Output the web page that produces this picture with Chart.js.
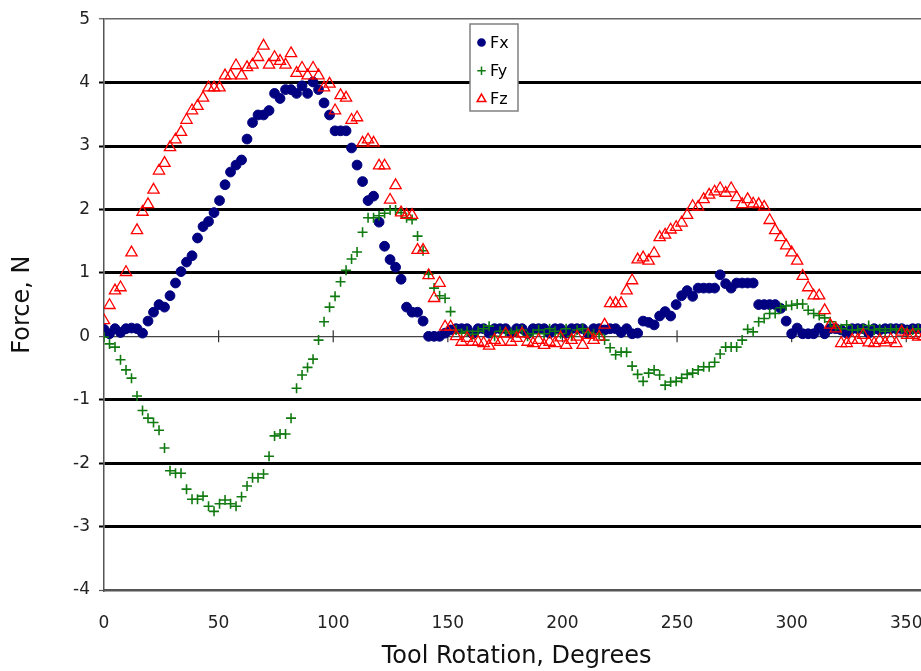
<!DOCTYPE html>
<html>
<head>
<meta charset="utf-8">
<title>Force vs Tool Rotation</title>
<script src="https://cdn.jsdelivr.net/npm/chart.js@4/dist/chart.umd.min.js"></script>
<style>
  html, body { margin: 0; padding: 0; background: #fff; overflow: hidden; }
</style>
</head>
<body>
<canvas id="forceChart" width="937" height="671"></canvas>
<script>
// tool rotation angle of each sample, degrees
const angles = [
  0, 2.4, 4.8, 7.2, 9.6, 12, 14.4, 16.8, 19.2, 21.6,
  24, 26.4, 28.8, 31.2, 33.6, 36, 38.4, 40.8, 43.2, 45.6,
  48, 50.4, 52.8, 55.2, 57.6, 60, 62.4, 64.8, 67.2, 69.6,
  72, 74.4, 76.8, 79.2, 81.6, 84, 86.4, 88.8, 91.2, 93.6,
  96, 98.4, 100.8, 103.2, 105.6, 108, 110.4, 112.8, 115.2, 117.6,
  120, 122.4, 124.8, 127.2, 129.6, 132, 134.4, 136.8, 139.2, 141.6,
  144, 146.4, 148.8, 151.2, 153.6, 156, 158.4, 160.8, 163.2, 165.6,
  168, 170.4, 172.8, 175.2, 177.6, 180, 182.4, 184.8, 187.2, 189.6,
  192, 194.4, 196.8, 199.2, 201.6, 204, 206.4, 208.8, 211.2, 213.6,
  216, 218.4, 220.8, 223.2, 225.6, 228, 230.4, 232.8, 235.2, 237.6,
  240, 242.4, 244.8, 247.2, 249.6, 252, 254.4, 256.8, 259.2, 261.6,
  264, 266.4, 268.8, 271.2, 273.6, 276, 278.4, 280.8, 283.2, 285.6,
  288, 290.4, 292.8, 295.2, 297.6, 300, 302.4, 304.8, 307.2, 309.6,
  312, 314.4, 316.8, 319.2, 321.6, 324, 326.4, 328.8, 331.2, 333.6,
  336, 338.4, 340.8, 343.2, 345.6, 348, 350.4, 352.8, 355.2, 357.6
];

const fx = [
  0.11, 0.04, 0.12, 0.06, 0.12, 0.13, 0.12, 0.05, 0.24, 0.38,
  0.50, 0.46, 0.64, 0.84, 1.02, 1.17, 1.27, 1.55, 1.73, 1.81,
  1.95, 2.14, 2.39, 2.59, 2.70, 2.78, 3.11, 3.37, 3.49, 3.49,
  3.56, 3.83, 3.75, 3.89, 3.89, 3.83, 3.95, 3.83, 4.01, 3.89,
  3.68, 3.49, 3.24, 3.24, 3.24, 2.97, 2.70, 2.44, 2.14, 2.21,
  1.80, 1.42, 1.21, 1.09, 0.90, 0.46, 0.38, 0.38, 0.24, 0.00,
  0.00, 0.00, 0.05, 0.10, 0.12, 0.12, 0.12, 0.04, 0.12, 0.12,
  0.05, 0.12, 0.12, 0.12, 0.05, 0.12, 0.12, 0.04, 0.12, 0.12,
  0.12, 0.05, 0.12, 0.12, 0.05, 0.12, 0.12, 0.12, 0.04, 0.12,
  0.12, 0.10, 0.12, 0.12, 0.06, 0.12, 0.04, 0.05, 0.24, 0.22,
  0.18, 0.32, 0.39, 0.32, 0.50, 0.64, 0.72, 0.63, 0.76, 0.76,
  0.76, 0.76, 0.97, 0.83, 0.76, 0.84, 0.84, 0.84, 0.84, 0.50,
  0.50, 0.50, 0.50, 0.44, 0.24, 0.04, 0.13, 0.04, 0.04, 0.04,
  0.13, 0.04, 0.12, 0.12, 0.10, 0.05, 0.12, 0.12, 0.12, 0.05,
  0.12, 0.10, 0.12, 0.12, 0.12, 0.12, 0.10, 0.12, 0.12, 0.12
];

const fy = [
  -0.01, -0.12, -0.17, -0.37, -0.53, -0.66, -0.94, -1.17, -1.29, -1.36,
  -1.48, -1.76, -2.12, -2.16, -2.16, -2.41, -2.57, -2.57, -2.52, -2.68,
  -2.76, -2.64, -2.58, -2.64, -2.68, -2.53, -2.36, -2.23, -2.23, -2.17,
  -1.89, -1.57, -1.54, -1.54, -1.29, -0.82, -0.61, -0.49, -0.36, -0.06,
  0.23, 0.46, 0.63, 0.86, 1.04, 1.22, 1.33, 1.64, 1.87, 1.87,
  1.90, 1.94, 1.99, 1.99, 1.95, 1.87, 1.84, 1.58, 1.35, 0.98,
  0.76, 0.64, 0.60, 0.39, 0.10, 0.05, 0.08, 0.03, 0.08, 0.12,
  0.16, 0.00, 0.08, 0.08, 0.05, 0.08, 0.10, 0.00, 0.04, 0.10,
  0.04, 0.12, 0.08, 0.04, 0.12, 0.00, 0.10, 0.12, 0.06, 0.04,
  0.03, -0.06, -0.18, -0.29, -0.25, -0.25, -0.47, -0.60, -0.71, -0.58,
  -0.53, -0.61, -0.77, -0.72, -0.71, -0.66, -0.60, -0.58, -0.53, -0.48,
  -0.48, -0.41, -0.28, -0.17, -0.17, -0.17, -0.06, 0.11, 0.07, 0.23,
  0.28, 0.36, 0.36, 0.45, 0.48, 0.49, 0.51, 0.51, 0.41, 0.36,
  0.33, 0.29, 0.23, 0.16, 0.12, 0.18, 0.10, 0.10, 0.12, 0.17,
  0.10, 0.12, 0.08, 0.12, 0.10, 0.12, 0.08, 0.10, 0.12, 0.10
];

const fz = [
  0.25, 0.49, 0.72, 0.77, 1.01, 1.32, 1.67, 1.96, 2.08, 2.31,
  2.61, 2.73, 2.98, 3.10, 3.22, 3.41, 3.56, 3.63, 3.76, 3.92,
  3.92, 3.92, 4.11, 4.11, 4.27, 4.11, 4.24, 4.28, 4.40, 4.58,
  4.28, 4.40, 4.34, 4.28, 4.46, 4.15, 4.23, 4.11, 4.23, 4.11,
  3.92, 3.98, 3.56, 3.80, 3.76, 3.41, 3.45, 3.05, 3.10, 3.05,
  2.69, 2.69, 2.15, 2.38, 1.95, 1.91, 1.91, 1.36, 1.36, 0.96,
  0.60, 0.84, 0.15, 0.15, 0.00, -0.09, -0.03, -0.09, -0.09, -0.11,
  -0.15, -0.06, -0.09, 0.04, -0.09, -0.03, 0.04, -0.09, -0.11, -0.06,
  -0.14, -0.09, -0.11, -0.02, -0.14, -0.06, -0.01, -0.14, 0.02, -0.06,
  -0.01, 0.18, 0.52, 0.52, 0.52, 0.72, 0.88, 1.21, 1.24, 1.19,
  1.31, 1.56, 1.60, 1.68, 1.72, 1.79, 1.91, 2.05, 2.04, 2.16,
  2.23, 2.28, 2.33, 2.26, 2.33, 2.19, 2.08, 2.16, 2.09, 2.08,
  2.04, 1.83, 1.67, 1.56, 1.43, 1.32, 1.19, 0.95, 0.77, 0.64,
  0.64, 0.41, 0.18, 0.12, -0.11, -0.11, -0.06, -0.06, 0.02, -0.10,
  -0.11, -0.06, -0.10, -0.05, -0.11, 0.07, 0.02, 0.02, -0.01, 0.00
];

const seriesLabels = ["Fx", "Fy", "Fz"];
const xTicks = [0, 50, 100, 150, 200, 250, 300, 350];
const yTicks = [-4, -3, -2, -1, 0, 1, 2, 3, 4, 5];

const FONT = "'DejaVu Sans', Verdana, sans-serif";

function toPoints(values) {
  return angles.map((a, i) => ({ x: a, y: values[i] }));
}

// thin axis line at y = 0 gets tick marks that cross it
const zeroAxisTicks = {
  id: "zeroAxisTicks",
  beforeDatasetsDraw(chart) {
    const { ctx, scales } = chart;
    const y0 = scales.y.getPixelForValue(0);
    ctx.save();
    ctx.strokeStyle = "#333";
    ctx.lineWidth = 1.2;
    xTicks.forEach((v) => {
      if (v === 0) return;
      const px = scales.x.getPixelForValue(v);
      ctx.beginPath();
      ctx.moveTo(px, y0 - 6);
      ctx.lineTo(px, y0 + 6);
      ctx.stroke();
    });
    ctx.restore();
  },
};

// boxed legend sitting inside the plot, like the original
const boxLegend = {
  id: "boxLegend",
  afterDatasetsDraw(chart) {
    const ctx = chart.ctx;
    ctx.save();
    ctx.fillStyle = "#fff";
    ctx.strokeStyle = "#808080";
    ctx.lineWidth = 1.5;
    ctx.fillRect(470, 24, 48, 87);
    ctx.strokeRect(470, 24, 48, 87);
    ctx.font = "16px " + FONT;
    ctx.textBaseline = "middle";
    chart.data.datasets.forEach((ds, i) => {
      const y = 42.5 + i * 28.3;
      ctx.fillStyle = ds.pointBackgroundColor;
      ctx.strokeStyle = ds.pointBorderColor;
      Chart.helpers.drawPoint(ctx, {
        pointStyle: ds.pointStyle,
        radius: ds.legendRadius,
        borderWidth: ds.pointBorderWidth,
        rotation: 0,
      }, 481.5, y);
      ctx.fillStyle = "#000";
      ctx.fillText(ds.label, 490, y + 1);
    });
    ctx.restore();
  },
};

const ctx = document.getElementById("forceChart").getContext("2d");
new Chart(ctx, {
  type: "scatter",
  data: {
    datasets: [
      {
        label: seriesLabels[0],
        data: toPoints(fx),
        pointStyle: "circle",
        pointRadius: 4.9,
        pointBackgroundColor: "#000080",
        pointBorderColor: "#000080",
        pointBorderWidth: 1,
        legendRadius: 3.6,
        order: 2,
      },
      {
        label: seriesLabels[1],
        data: toPoints(fy),
        pointStyle: "cross",
        pointRadius: 5,
        pointBackgroundColor: "#117a11",
        pointBorderColor: "#117a11",
        pointBorderWidth: 1.6,
        legendRadius: 4.2,
        order: 1,
      },
      {
        label: seriesLabels[2],
        data: toPoints(fz),
        pointStyle: "triangle",
        pointRadius: 6.5,
        pointBackgroundColor: "rgba(0,0,0,0)",
        pointBorderColor: "#ff0000",
        pointBorderWidth: 1.3,
        legendRadius: 5,
        order: 0,
      },
    ],
  },
  options: {
    responsive: false,
    animation: false,
    layout: { padding: { top: 13, right: 3, bottom: 0, left: 0 } },
    plugins: {
      legend: { display: false },
      tooltip: { enabled: false },
    },
    scales: {
      x: {
        type: "linear",
        min: 0,
        max: 360,
        afterBuildTicks: (scale) => {
          scale.ticks = xTicks.map((v) => ({ value: v }));
        },
        afterFit: (scale) => {
          scale.height = 81;
        },
        // invisible tick marks only push the labels down
        grid: {
          display: true,
          drawOnChartArea: false,
          drawTicks: true,
          tickLength: 20,
          tickColor: "rgba(0,0,0,0)",
        },
        border: { color: "#555", width: 2.5 },
        ticks: {
          padding: 3,
          color: "#222",
          font: { family: FONT, size: 17 },
        },
        title: {
          display: true,
          text: "Tool Rotation, Degrees",
          color: "#111",
          font: { family: FONT, size: 24 },
          padding: { top: 0, bottom: 0 },
        },
      },
      y: {
        type: "linear",
        min: -4,
        max: 5,
        afterBuildTicks: (scale) => {
          scale.ticks = yTicks.map((v) => ({ value: v }));
        },
        afterFit: (scale) => {
          scale.width = 104;
        },
        grid: {
          color: (c) => {
            const v = c.tick ? c.tick.value : null;
            if (v === 5) return "#666";
            if (v === 0) return "#444";
            if (v === -4) return "rgba(0,0,0,0)";
            return "#000";
          },
          lineWidth: (c) => {
            const v = c.tick ? c.tick.value : null;
            if (v === 5) return 1.5;
            if (v === 0) return 1.2;
            return 3;
          },
          tickColor: (c) => {
            const v = c.tick ? c.tick.value : null;
            return v === 5 || v === 0 || v === -4 ? "#555" : "#000";
          },
          tickWidth: (c) => {
            const v = c.tick ? c.tick.value : null;
            return v === 5 || v === 0 || v === -4 ? 1.2 : 2;
          },
          tickLength: 5,
        },
        border: { color: "#555", width: 1.5 },
        ticks: {
          padding: 9,
          color: "#222",
          font: { family: FONT, size: 17 },
        },
        title: {
          display: true,
          text: "Force, N",
          color: "#111",
          font: { family: FONT, size: 24 },
          padding: { top: 8, bottom: 0 },
        },
      },
    },
  },
  plugins: [zeroAxisTicks, boxLegend],
});
</script>
</body>
</html>
